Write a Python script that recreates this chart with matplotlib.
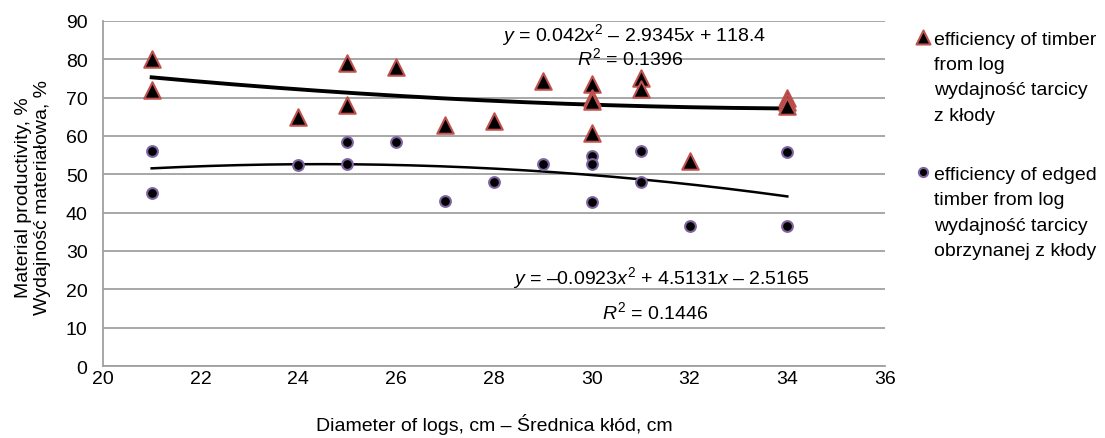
import matplotlib
matplotlib.use("Agg")
import matplotlib.pyplot as plt
import numpy as np

plt.rcParams['font.family'] = ['Liberation Sans', 'DejaVu Sans']
plt.rcParams['mathtext.fontset'] = 'custom'
plt.rcParams['mathtext.rm'] = 'Liberation Sans'
plt.rcParams['mathtext.it'] = 'Liberation Sans:italic'

# efficiency of timber from log
tri_x = [21, 21, 24, 25, 25, 26, 27, 28, 29, 30, 30, 30, 30, 31, 31, 32, 34, 34, 34]
tri_y = [80, 72, 65, 79, 68, 78, 62.8, 64, 74.3, 73.6, 70, 69, 60.8, 75, 72.3, 53.5, 69.8, 68.8, 67.8]

# efficiency of edged timber from log
dot_x = [21, 21, 24, 25, 25, 26, 27, 28, 29, 30, 30, 30, 31, 31, 32, 34, 34]
dot_y = [56, 45, 52.5, 58.5, 52.8, 58.5, 43, 48, 52.8, 54.8, 52.8, 42.8, 56.1, 48, 36.5, 55.9, 36.5]

# polynomial trend coefficients (as printed on the chart)
tri_fit = [0.042, -2.9345, 118.4]
dot_fit = [-0.0923, 4.5131, -2.5165]

fig = plt.figure(figsize=(11.05, 4.39), dpi=100)
ax = fig.add_axes([0.093, 0.164, 0.708, 0.786])

xs = np.linspace(21, 34, 200)
ax.plot(xs, np.polyval(tri_fit, xs), color='black', lw=2.8, zorder=2)
ax.plot(xs, np.polyval(dot_fit, xs), color='black', lw=1.8, zorder=2)

ax.scatter(tri_x, tri_y, marker='^', s=140, c='black', edgecolors='#c0504d',
           linewidths=1.5, zorder=3,
           label='efficiency of timber\nfrom log\nwydajność tarcicy\nz kłody')
ax.scatter(dot_x, dot_y, marker='o', s=60, c='black', edgecolors='#8064a2',
           linewidths=1.5, zorder=3,
           label='efficiency of edged\ntimber from log\nwydajność tarcicy\nobrzynanej z kłody')

ax.set_xlim(20, 36)
ax.set_ylim(0, 90)
ax.set_xticks(np.arange(20, 37, 2))
ax.set_yticks(np.arange(0, 91, 10))
ax.grid(axis='y', color='#a0a0a0', lw=1.3)
ax.set_axisbelow(True)
for s in ['top', 'right']:
    ax.spines[s].set_visible(False)
for s in ['left', 'bottom']:
    ax.spines[s].set_color('#a0a0a0')
    ax.spines[s].set_linewidth(1.3)
ax.tick_params(length=0, labelsize=14)
ax.tick_params(axis='y', pad=11)
ax.tick_params(axis='x', pad=3)

ax.set_xlabel('Diameter of logs, cm – Średnica kłód, cm', fontsize=14)
ax.xaxis.set_label_coords(0.5, -0.168)
ax.xaxis.label.set_va('center')
ax.set_ylabel('Material productivity, %\nWydajność materiałowa, %', fontsize=14)
ax.yaxis.set_label_coords(-0.089, 0.49)
ax.yaxis.label.set_va('center')

ax.text(0.679, 0.962, r'$y$ = 0.042$x^2$ – 2.9345$x$ + 118.4', transform=ax.transAxes,
        ha='center', va='center', fontsize=14)
ax.text(0.674, 0.896, r'$R^2$ = 0.1396', transform=ax.transAxes,
        ha='center', va='center', fontsize=14)
ax.text(0.7136, 0.258, r'$y$ = –0.0923$x^2$ + 4.5131$x$ – 2.5165', transform=ax.transAxes,
        ha='center', va='center', fontsize=14)
ax.text(0.706, 0.159, r'$R^2$ = 0.1446', transform=ax.transAxes,
        ha='center', va='center', fontsize=14)

leg = fig.legend(loc='upper left', bbox_to_anchor=(0.811, 0.968), frameon=False,
                 fontsize=14, handletextpad=0.05, handlelength=1.0, labelspacing=2.15,
                 markerscale=0.85, handleheight=5.0, scatteryoffsets=[0.69])
for t in leg.get_texts():
    t.set_linespacing(1.65)

fig.savefig('out.png', dpi=100)
